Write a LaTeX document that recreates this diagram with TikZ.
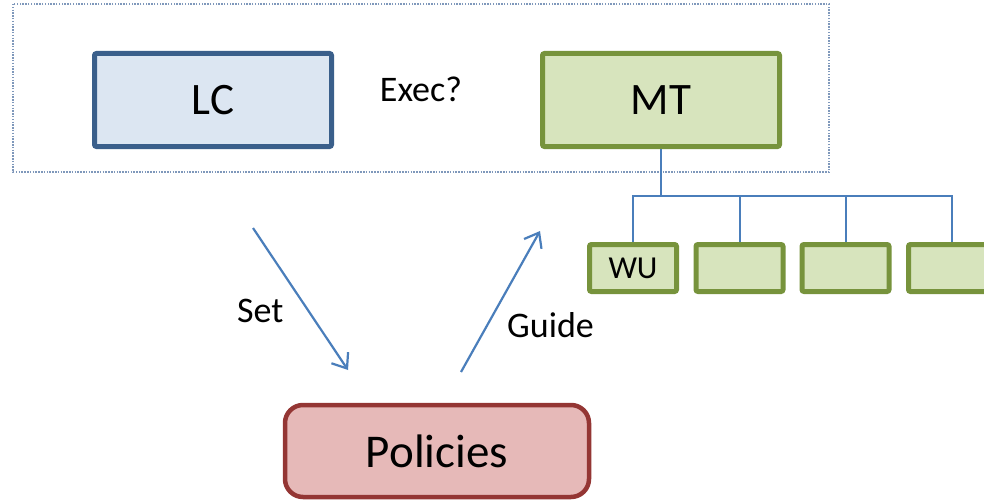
\documentclass[tikz,border=0pt]{standalone}
\usepackage{fontspec}
\setmainfont{Carlito}
\usetikzlibrary{arrows.meta}
\definecolor{lcfill}{HTML}{DCE6F2}
\definecolor{lcline}{HTML}{3A5F8B}
\definecolor{mtfill}{HTML}{D7E4BD}
\definecolor{mtline}{HTML}{77933C}
\definecolor{polfill}{HTML}{E6B9B8}
\definecolor{polline}{HTML}{943634}
\definecolor{link}{HTML}{4A7EBB}
\definecolor{frame}{HTML}{7F98BB}
\begin{document}
\begin{tikzpicture}[x=1pt,y=-1pt,
    box/.style={draw,line width=5pt,rounded corners=2pt,inner sep=0pt},
    big/.style={font=\fontsize{45}{50}\selectfont},
    label/.style={font=\fontsize{36}{40}\selectfont,inner sep=0pt},
    wubox/.style={box,fill=mtfill,draw=mtline,minimum width=87pt,minimum height=47pt,font=\fontsize{32}{36}\selectfont},
    flow/.style={link,line width=2.2pt,-{Straight Barb[length=13pt,width=20pt]}}]
                \useasboundingbox (0,0) rectangle (984,500);
                \draw[frame,line width=1.4pt,dash pattern=on 1.5pt off 1.3pt] (13,4) rectangle (829,172);
                \node[box,big,fill=lcfill,draw=lcline,minimum width=237pt,minimum height=93pt] (LC) at (213,100) {LC};
                \node[box,big,fill=mtfill,draw=mtline,minimum width=237pt,minimum height=93pt] (MT) at (661,100) {MT};
                \node[label] (exec) at (421,89.5) {Exec?};
                \node[box,font=\fontsize{47}{52}\selectfont,fill=polfill,draw=polline,line width=4.5pt,rounded corners=18pt,minimum width=304pt,minimum height=92pt] (pol) at (437,451) {Policies};
                \node[wubox] (wu1) at (633,268) {WU};
                \node[wubox] (wu2) at (739.5,268) {};
                \node[wubox] (wu3) at (845.5,268) {};
                \node[wubox] (wu4) at (952,268) {};
                \coordinate (bus) at (661,196);
                \draw[link,line width=2pt] (MT.south) -- (bus);
                \foreach \i in {1,...,4}
                    \draw[link,line width=2pt] (bus) -| (wu\i.north);
                \coordinate (setA) at (253,228);
                \coordinate (setB) at (348,370);
                \coordinate (guideA) at (461,372);
                \coordinate (guideB) at (540,231);
                \draw[flow] (setA) -- (setB);
                \draw[flow] (guideA) -- (guideB);
                \node[label,anchor=base west] (set) at (237,322) {Set};
                \node[label,anchor=base west] (guide) at (507,337) {Guide};
            \end{tikzpicture}
\end{document}
